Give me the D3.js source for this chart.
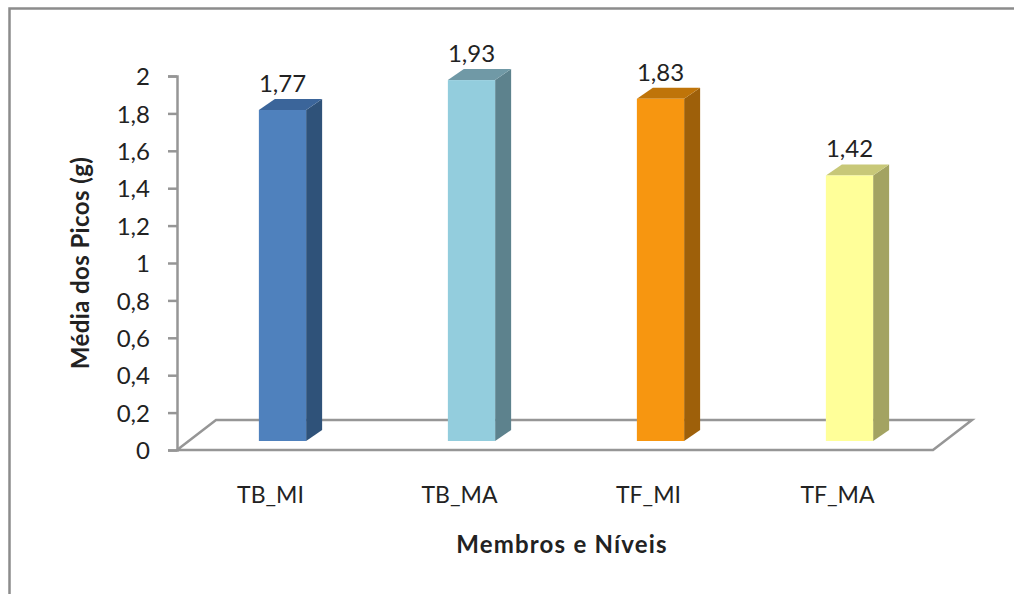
<!DOCTYPE html>
<html>
<head>
<meta charset="utf-8">
<script src="https://cdn.jsdelivr.net/npm/d3@7"></script>
<style>
  html, body { margin: 0; padding: 0; background: #fff; }
  text { font-family: Lato, "Open Sans", sans-serif; fill: #222; }
</style>
</head>
<body>
<svg id="chart" width="1014" height="594"></svg>
<script>
const categories = ["TB_MI", "TB_MA", "TF_MI", "TF_MA"];
const values = [1.77, 1.93, 1.83, 1.42];
const tickValues = [0, 0.2, 0.4, 0.6, 0.8, 1, 1.2, 1.4, 1.6, 1.8, 2];
const frontColors = ["#4f81bd", "#93cddd", "#f79610", "#ffff99"];
const sideColors = ["#2f5279", "#5d828d", "#9e600a", "#a3a362"];
const topColors = ["#3b659a", "#7099a6", "#bf7409", "#c8c878"];

const svg = d3.select("#chart");
const comma = s => String(s).replace(".", ",");

// Plot frame and oblique projection of the floor
const left = 177, right = 933, baseY = 450, topY = 76;
const depthX = 39, depthY = -30;
const barDepthX = 16, barDepthY = -11;
const barShiftX = 11, barShiftY = -9;

const x = d3.scaleBand().domain(categories).range([left, right]).paddingInner(0.75).paddingOuter(0.375);
const y = d3.scaleLinear().domain([0, 2]).range([baseY, topY]);

// Outer chart border, open at the right and bottom
svg.append("path")
  .attr("d", "M9.5,594V8.5H1014")
  .attr("fill", "none").attr("stroke", "#8c8c8c").attr("stroke-width", 2.5);

// Floor parallelogram
svg.append("path")
  .attr("d", d3.line()([
    [left, baseY], [right, baseY],
    [right + depthX, baseY + depthY], [left + depthX, baseY + depthY], [left, baseY]
  ]))
  .attr("fill", "none").attr("stroke", "#969696").attr("stroke-width", 2.5);

// Value axis
const yAxis = svg.append("g")
  .attr("transform", `translate(${left},0)`)
  .call(d3.axisLeft(y).tickValues(tickValues).tickFormat(comma).tickSize(9).tickPadding(18));
yAxis.select(".domain").attr("stroke", "#969696").attr("stroke-width", 2.5);
yAxis.selectAll("line").attr("stroke", "#969696").attr("stroke-width", 2.5);
yAxis.selectAll("text").attr("dy", "0.36em").style("font-size", "24px").style("font-family", "Lato, sans-serif").attr("fill", "#222");

// Category axis labels
const xAxis = svg.append("g")
  .attr("transform", `translate(0,${baseY})`)
  .call(d3.axisBottom(x).tickSize(0).tickPadding(37));
xAxis.select(".domain").remove();
xAxis.selectAll("text").attr("dx", "-1").style("font-size", "23px").style("font-family", "Lato, sans-serif").attr("fill", "#222");

// Columns: front, side and top faces
const bars = svg.append("g").selectAll("g")
  .data(categories.map((c, i) => ({ c, v: values[i], i })))
  .join("g")
  .attr("transform", `translate(${barShiftX},${barShiftY})`);

const w = x.bandwidth();
bars.append("path")
  .attr("fill", d => sideColors[d.i])
  .attr("d", d => d3.line()([
    [x(d.c) + w, y(d.v)], [x(d.c) + w + barDepthX, y(d.v) + barDepthY],
    [x(d.c) + w + barDepthX, y(0) + barDepthY], [x(d.c) + w, y(0)]
  ]) + "Z");
bars.append("path")
  .attr("fill", d => topColors[d.i])
  .attr("d", d => d3.line()([
    [x(d.c), y(d.v)], [x(d.c) + barDepthX, y(d.v) + barDepthY],
    [x(d.c) + w + barDepthX, y(d.v) + barDepthY], [x(d.c) + w, y(d.v)]
  ]) + "Z");
bars.append("rect")
  .attr("fill", d => frontColors[d.i])
  .attr("x", d => x(d.c)).attr("width", w)
  .attr("y", d => y(d.v)).attr("height", d => y(0) - y(d.v));

// Value labels above each column
bars.append("text")
  .attr("x", d => x(d.c) + w / 2)
  .attr("y", d => y(d.v) - 18)
  .attr("text-anchor", "middle")
  .style("font-size", "24px")
  .text(d => comma(d.v));

// Axis titles
svg.append("text")
  .attr("transform", "translate(89,263) rotate(-90)")
  .attr("text-anchor", "middle")
  .style("font-size", "24px").style("font-weight", 700).style("letter-spacing", "0.4px")
  .text("Média dos Picos (g)");
svg.append("text")
  .attr("x", 562).attr("y", 553)
  .attr("text-anchor", "middle")
  .style("font-size", "24px").style("font-weight", 700).style("letter-spacing", "1.2px")
  .text("Membros e Níveis");
</script>
</body>
</html>
